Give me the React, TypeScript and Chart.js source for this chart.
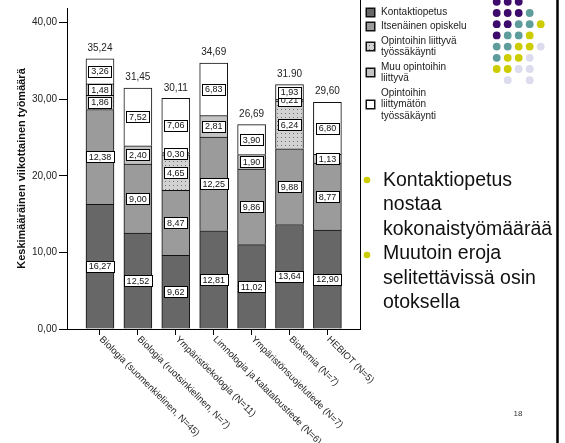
import React, { useEffect, useRef } from 'react';
import { Chart, registerables } from 'chart.js';

Chart.register(...registerables);

const categories = [
  'Biologia (suomenkielinen, N=45)',
  'Biologia (ruotsinkielinen, N=7)',
  'Ympäristöekologia (N=11)',
  'Limnologia ja kalataloustiede (N=6)',
  'Ympäristönsuojelutiede (N=7)',
  'Biokemia (N=7)',
  'HEBIOT (N=5)',
];
const kontaktiopetus = [16.27, 12.52, 9.62, 12.81, 11.02, 13.64, 12.9];
const itsenainenOpiskelu = [12.38, 9.0, 8.47, 12.25, 9.86, 9.88, 8.77];
const liittyvaTyo = [1.86, 0, 4.65, 0, 0, 6.24, 0];
const muuLiittyva = [1.48, 2.4, 0.3, 2.81, 1.9, 0.21, 1.13];
const liittymatonTyo = [3.26, 7.52, 7.06, 6.83, 3.9, 1.93, 6.8];
const totalLabels = ['35,24', '31,45', '30,11', '34,69', '26,69', '31.90', '29,60'];
const yTicks = [0, 10, 20, 30, 40];

const legendKontakti = ['Kontaktiopetus'];
const legendItsenainen = ['Itsenäinen opiskelu'];
const legendLiittyva = ['Opintoihin liittyvä', 'työssäkäynti'];
const legendMuu = ['Muu opintoihin', 'liittyvä'];
const legendLiittymaton = ['Opintoihin', 'liittymätön', 'työssäkäynti'];

const yTitle = 'Keskimääräinen viikottainen työmäärä';
const bulletOne = ['Kontaktiopetus', 'nostaa', 'kokonaistyömäärää'];
const bulletTwo = ['Muutoin eroja', 'selitettävissä osin', 'otoksella'];
const pageNumber = '18';

// decorative dot grid (P purple, T teal, Y yellow, L lavender)
const dotRows = ['PPP..', 'PPPT.', 'PPTTY', 'PTTY.', 'TTYYL', 'TYYL.', 'YYLL.', '.L.L.'];
const dotColors: Record<string, string> = { P: '#3d0b6b', T: '#5f9c9c', Y: '#cccc00', L: '#dcdcee' };

const FONT = 'Arial, "Liberation Sans", sans-serif';

function fmt(v: number) {
  return v.toFixed(2).replace('.', ',');
}

function makePattern(): CanvasPattern | string {
  const c = document.createElement('canvas');
  c.width = 4;
  c.height = 4;
  const g = c.getContext('2d');
  if (!g) return '#cfcfcf';
  g.fillStyle = '#d2d2d2';
  g.fillRect(0, 0, 4, 4);
  g.fillStyle = '#707070';
  g.fillRect(1, 1, 1, 1);
  const p = g.createPattern(c, 'repeat');
  return p || '#cfcfcf';
}

export default function App() {
  const ref = useRef<HTMLCanvasElement | null>(null);

  useEffect(() => {
    const canvas = ref.current;
    if (!canvas) return;
    const pattern = makePattern();

    const series = [
      { label: legendKontakti, data: kontaktiopetus, color: '#676767' },
      { label: legendItsenainen, data: itsenainenOpiskelu, color: '#9b9b9b' },
      { label: legendLiittyva, data: liittyvaTyo, color: pattern },
      { label: legendMuu, data: muuLiittyva, color: '#c3c3c3' },
      { label: legendLiittymaton, data: liittymatonTyo, color: '#ffffff' },
    ];

    const plugin = {
      id: 'slideDecor',
      afterDatasetsDraw(chart: any) {
        const ctx: CanvasRenderingContext2D = chart.ctx;
        const yScale = chart.scales.y;
        ctx.save();
        // segment value labels
        ctx.font = `9px ${FONT}`;
        ctx.textAlign = 'center';
        ctx.textBaseline = 'middle';
        chart.data.datasets.forEach((ds: any, di: number) => {
          const meta = chart.getDatasetMeta(di);
          meta.data.forEach((el: any, i: number) => {
            const v = series[di].data[i];
            if (!v) return;
            const cy = (el.y + el.base) / 2;
            const txt = fmt(v);
            const w = Math.round(ctx.measureText(txt).width + 5);
            const h = 11;
            const x0 = Math.round(el.x - w / 2) + 0.5;
            const y0 = Math.round(cy - h / 2) + 0.5;
            ctx.fillStyle = '#ffffff';
            ctx.fillRect(x0, y0, w, h);
            ctx.strokeStyle = '#000000';
            ctx.lineWidth = 1;
            ctx.strokeRect(x0, y0, w, h);
            ctx.fillStyle = '#111111';
            ctx.fillText(txt, el.x, cy + 0.5);
          });
        });
        // totals
        ctx.font = `10px ${FONT}`;
        ctx.fillStyle = '#222222';
        const meta0 = chart.getDatasetMeta(0);
        totalLabels.forEach((t, i) => {
          const sum = series.reduce((s, ser) => s + ser.data[i], 0);
          const y = yScale.getPixelForValue(sum);
          ctx.fillText(t, meta0.data[i].x, y - 10.5);
        });
        ctx.restore();
      },
      afterDraw(chart: any) {
        const ctx: CanvasRenderingContext2D = chart.ctx;
        const area = chart.chartArea;
        const xScale = chart.scales.x;
        ctx.save();
        // x labels rotated clockwise
        ctx.font = `9.5px ${FONT}`;
        ctx.fillStyle = '#222222';
        ctx.textAlign = 'left';
        ctx.textBaseline = 'middle';
        categories.forEach((c, i) => {
          const x = xScale.getPixelForValue(i);
          ctx.save();
          ctx.translate(x + 1, area.bottom + 9);
          ctx.rotate(Math.PI / 4);
          ctx.fillText(c, 0, 0);
          ctx.restore();
        });
        // plot right border
        ctx.strokeStyle = '#000000';
        ctx.lineWidth = 1;
        ctx.beginPath();
        ctx.moveTo(Math.round(area.right) + 0.5, 0);
        ctx.lineTo(Math.round(area.right) + 0.5, Math.round(area.bottom) + 0.5);
        ctx.stroke();
        // outer right frame
        ctx.lineWidth = 2.5;
        ctx.beginPath();
        ctx.moveTo(557.5, 0);
        ctx.lineTo(557.5, 443);
        ctx.stroke();
        // legend
        const lh = 11.5;
        let y = 12;
        ctx.font = `10px ${FONT}`;
        ctx.textBaseline = 'middle';
        ctx.textAlign = 'left';
        series.forEach((s) => {
          const lines = s.label;
          const sy = y + ((lines.length - 1) * lh) / 2;
          ctx.fillStyle = s.color as any;
          ctx.fillRect(366, Math.round(sy - 4.5), 9, 9);
          ctx.strokeStyle = '#111111';
          ctx.lineWidth = 1.5;
          ctx.strokeRect(366.25, Math.round(sy - 4.5) + 0.25, 8.5, 8.5);
          ctx.fillStyle = '#1a1a1a';
          lines.forEach((ln, k) => ctx.fillText(ln, 381, y + k * lh));
          y += lines.length * lh + 3;
        });
        // decorative dots
        dotRows.forEach((row, r) => {
          row.split('').forEach((ch, c) => {
            if (ch === '.') return;
            ctx.fillStyle = dotColors[ch];
            ctx.beginPath();
            ctx.arc(496.7 + c * 11, 1.8 + r * 11.2, 3.9, 0, Math.PI * 2);
            ctx.fill();
          });
        });
        // bullets
        ctx.fillStyle = '#cccc00';
        [180, 255].forEach((by) => {
          ctx.beginPath();
          ctx.arc(367, by, 3.3, 0, Math.PI * 2);
          ctx.fill();
        });
        ctx.fillStyle = '#111111';
        ctx.font = `19.5px ${FONT}`;
        const allLines = [...bulletOne, ...bulletTwo];
        allLines.forEach((ln, k) => {
          ctx.fillText(ln, 383, 180.3 + k * 24.5);
        });
        // page number
        ctx.font = `8px ${FONT}`;
        ctx.fillStyle = '#333333';
        ctx.textAlign = 'center';
        ctx.fillText(pageNumber, 518, 414);
        ctx.restore();
      },
    };

    const chart = new Chart(canvas, {
      type: 'bar',
      data: {
        datasets: series.map((s) => ({
          label: s.label.join(' '),
          data: s.data.map((v, i) => ({ x: i, y: v })),
          backgroundColor: s.color as any,
          borderColor: '#111111',
          borderWidth: 1,
          barThickness: 28,
        })),
      },
      options: {
        animation: false,
        responsive: false,
        devicePixelRatio: 1,
        layout: { padding: { left: 0, right: 205, top: 0, bottom: 0 } },
        plugins: {
          legend: { display: false },
          tooltip: { enabled: false },
        },
        scales: {
          x: {
            type: 'linear',
            min: -0.87,
            max: 6.86,
            offset: false,
            stacked: true,
            afterBuildTicks: (s: any) => {
              s.ticks = categories.map((_, i) => ({ value: i }));
            },
            afterFit: (s: any) => {
              s.height = 114;
            },
            ticks: { display: false },
            grid: { offset: false, drawOnChartArea: false, drawTicks: true, tickLength: 6, color: '#000000' },
            border: { display: true, color: '#000000', width: 1 },
          },
          y: {
            min: 0,
            max: 41.9,
            stacked: true,
            afterBuildTicks: (s: any) => {
              s.ticks = yTicks.map((v) => ({ value: v }));
            },
            afterFit: (s: any) => {
              s.width = 67;
            },
            ticks: {
              callback: (v: any) => fmt(Number(v)),
              font: { family: FONT, size: 10 },
              color: '#222222',
              padding: 2,
            },
            grid: { drawOnChartArea: false, drawTicks: true, tickLength: 8, color: '#000000' },
            border: { display: true, color: '#000000', width: 1 },
            title: {
              display: true,
              text: yTitle,
              font: { family: FONT, size: 11, weight: 'bold' },
              color: '#111111',
              padding: { top: 15, bottom: 0 },
            },
          },
        },
      },
      plugins: [plugin],
    } as any);

    return () => chart.destroy();
  }, []);

  return (
    <div style={{ position: 'fixed', left: 0, top: 0, width: 565, height: 443, background: '#ffffff' }}>
      <canvas ref={ref} width={565} height={443} style={{ display: 'block', width: 565, height: 443 }} />
    </div>
  );
}
